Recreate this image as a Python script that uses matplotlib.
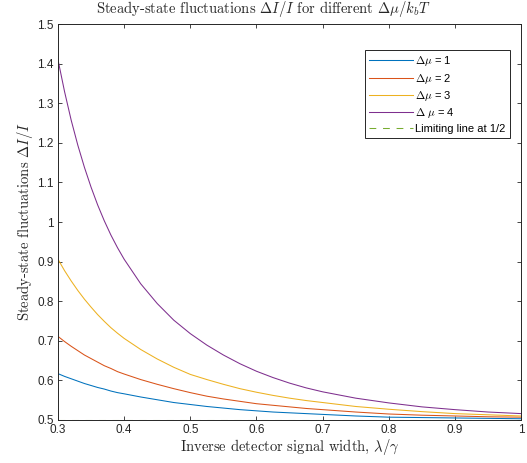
import matplotlib
matplotlib.use("Agg")
import matplotlib.pyplot as plt
from matplotlib.ticker import FuncFormatter

plt.rcParams['font.family'] = ['Liberation Sans', 'DejaVu Sans']
plt.rcParams['mathtext.fontset'] = 'cm'

# x grid (inverse detector signal width) and curves
x = [0.30, 0.31, 0.32, 0.33, 0.34, 0.35, 0.36, 0.37, 0.38, 0.39, 0.40,
     0.425, 0.45, 0.475, 0.50, 0.525, 0.55, 0.575, 0.60, 0.625, 0.65, 0.675,
     0.70, 0.75, 0.80, 0.85, 0.90, 0.95, 1.00]
mu1 = [0.617, 0.610, 0.604, 0.598, 0.592, 0.587, 0.582, 0.578, 0.573, 0.569, 0.566,
       0.558, 0.551, 0.544, 0.539, 0.534, 0.530, 0.526, 0.523, 0.520, 0.518, 0.516,
       0.514, 0.510, 0.507, 0.506, 0.505, 0.504, 0.503]
mu2 = [0.711, 0.698, 0.686, 0.675, 0.664, 0.655, 0.646, 0.637, 0.630, 0.622, 0.616,
       0.602, 0.590, 0.579, 0.569, 0.560, 0.553, 0.547, 0.541, 0.537, 0.533, 0.529,
       0.526, 0.520, 0.515, 0.512, 0.510, 0.508, 0.507]
mu3 = [0.906, 0.877, 0.851, 0.827, 0.805, 0.785, 0.766, 0.749, 0.733, 0.719, 0.706,
       0.678, 0.654, 0.633, 0.615, 0.602, 0.590, 0.579, 0.570, 0.562, 0.555, 0.549,
       0.544, 0.534, 0.527, 0.521, 0.516, 0.513, 0.510]
mu4 = [1.410, 1.329, 1.257, 1.194, 1.138, 1.088, 1.043, 1.003, 0.967, 0.935, 0.906,
       0.844, 0.794, 0.752, 0.718, 0.689, 0.664, 0.642, 0.623, 0.607, 0.593, 0.581,
       0.571, 0.555, 0.543, 0.533, 0.526, 0.520, 0.516]
limit = [0.5] * len(x)

labels = [r'$\Delta\mu$ = 1', r'$\Delta\mu$ = 2', r'$\Delta\mu$ = 3',
          r'$\Delta$ $\mu$ = 4', 'Limiting line at 1/2']
colors = ['#0072BD', '#D95319', '#EDB120', '#7E2F8E', '#77AC30']

fig = plt.figure(figsize=(5.27, 4.63), dpi=100)
ax = fig.add_axes([0.110, 0.093, 0.879, 0.855])

for ys, lab, c in zip([mu1, mu2, mu3, mu4], labels[:4], colors[:4]):
    ax.plot(x, ys, color=c, lw=0.75, label=lab)
ax.plot(x, limit, color=colors[4], lw=0.75, dashes=(6.5, 6.5), label=labels[4])

ax.set_xlim(0.3, 1.0)
ax.set_ylim(0.5, 1.5)
ax.set_xticks([0.3, 0.4, 0.5, 0.6, 0.7, 0.8, 0.9, 1.0])
ax.set_yticks([0.5, 0.6, 0.7, 0.8, 0.9, 1.0, 1.1, 1.2, 1.3, 1.4, 1.5])
fmt = FuncFormatter(lambda v, p: '%g' % round(v, 2))
ax.xaxis.set_major_formatter(fmt)
ax.yaxis.set_major_formatter(fmt)
ax.tick_params(direction='in', length=3, width=0.6, colors='#262626',
               labelsize=8.5, top=True, right=True, pad=3)
for s in ax.spines.values():
    s.set_color('#262626')
    s.set_linewidth(0.7)

serif = dict(fontfamily='cmr10', fontsize=10.5, color='#262626')
ax.set_xlabel(r'Inverse detector signal width, $\lambda/\gamma$', labelpad=1, **serif)
ax.set_ylabel(r'Steady-state fluctuations $\Delta I/I$', labelpad=2, **serif)
fig.text(263 / 527, 1 - 9 / 463,
         r'Steady-state fluctuations $\Delta I/I$ for different $\Delta\mu/k_bT$',
         ha='center', va='center', **serif)

leg = ax.legend(loc='upper right', bbox_to_anchor=(0.975, 0.935), fontsize=8,
                fancybox=False, framealpha=1, edgecolor='#262626',
                handlelength=3.9, handletextpad=0.2, labelspacing=0.3,
                borderpad=0.4, borderaxespad=0)
leg.get_frame().set_linewidth(0.7)

fig.savefig('out.png', dpi=100)
